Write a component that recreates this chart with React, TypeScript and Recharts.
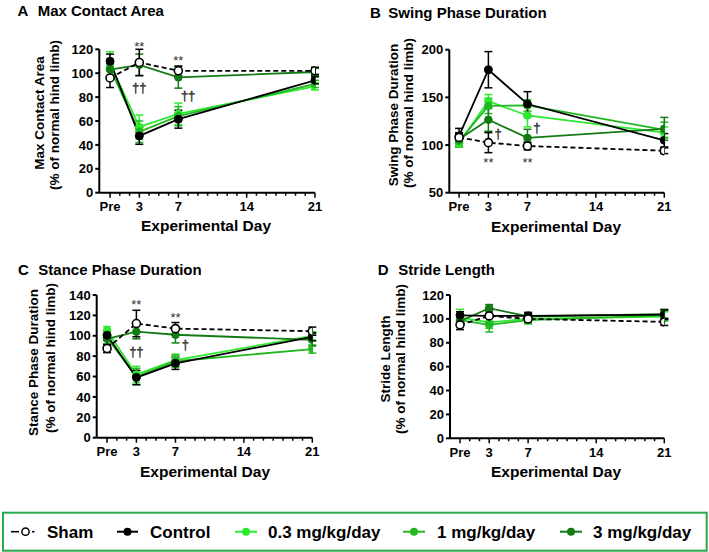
import React from 'react';
import { LineChart, Line, XAxis, YAxis, ErrorBar, ReferenceDot } from 'recharts';

// ---------- shared ----------
const days = [0, 3, 7, 21];
const dayTicks = [0, 1, 2, 3, 4, 5, 6, 7, 8, 9, 10, 11, 12, 13, 14, 15, 16, 17, 18, 19, 20, 21];
const majorTicks = [0, 3, 7, 14, 21];
const seriesNames = ['Sham', 'Control', '0.3 mg/kg/day', '1 mg/kg/day', '3 mg/kg/day'];

// ---------- A: Max Contact Area ----------
const areaSham = [96, 109, 102, 102];
const areaShamErr = [8, 11, 4, 3];
const areaControl = [110, 47.5, 61.5, 94];
const areaControlErr = [6, 7, 7.5, 3];
const area03 = [108, 55, 66, 89];
const area03Err = [10, 10, 9, 3];
const area1 = [104, 51, 64, 91];
const area1Err = [8, 9, 8, 3];
const area3 = [103, 107, 96.5, 101];
const area3Err = [8, 9, 9, 3];
const areaMarks = [
  { day: 3, value: 125, text: '**' },
  { day: 7, value: 113.5, text: '**' },
  { day: 3, value: 87.4, text: '††' },
  { day: 8, value: 81, text: '††' },
];

// ---------- B: Swing Phase Duration ----------
const swingSham = [108, 102.5, 99, 94];
const swingShamErr = [5, 10.5, 4, 3];
const swingControl = [109.5, 179, 143, 105];
const swingControlErr = [8, 19, 13, 7];
const swing03 = [102, 146, 131, 113];
const swing03Err = [4, 7, 12, 6];
const swing1 = [104, 141, 141.5, 116];
const swing1Err = [6, 8, 6, 8];
const swing3 = [106, 126.5, 107.5, 117];
const swing3Err = [6, 12, 9, 12];
const swingMarks = [
  { day: 3, value: 84.5, text: '**' },
  { day: 7, value: 84.5, text: '**' },
  { day: 4, value: 111.5, text: '†' },
  { day: 7.95, value: 117.5, text: '†' },
];

// ---------- C: Stance Phase Duration ----------
const stanceSham = [87.5, 112, 107, 104.5];
const stanceShamErr = [4, 13, 6, 4];
const stanceControl = [100.5, 59, 73, 99];
const stanceControlErr = [5, 7, 6, 4];
const stance03 = [105, 62, 76, 100];
const stance03Err = [4, 8, 6, 4];
const stance1 = [98, 60, 75, 87];
const stance1Err = [6, 8, 6, 4];
const stance3 = [97, 104, 101, 96];
const stance3Err = [6, 7, 8, 6];
const stanceMarks = [
  { day: 3, value: 134, text: '**' },
  { day: 7, value: 121, text: '**' },
  { day: 3, value: 84.4, text: '††' },
  { day: 8, value: 91, text: '†' },
];

// ---------- D: Stride Length ----------
const strideSham = [95, 102.5, 100, 97.5];
const strideShamErr = [4, 5, 3, 3];
const strideControl = [103, 102.5, 102.5, 103.5];
const strideControlErr = [3, 6, 3, 4];
const stride03 = [101, 97, 100, 102];
const stride03Err = [7, 5, 4, 4];
const stride1 = [99, 95, 99, 103];
const stride1Err = [5, 6, 3, 4];
const stride3 = [98, 109, 102, 104];
const stride3Err = [4, 3, 3, 4];
const strideMarks: { day: number; value: number; text: string }[] = [];

// ---------- styling ----------
const FONT = '"Liberation Sans", Arial, Helvetica, sans-serif';
const C_SHAM = '#000000';
const C_CONTROL = '#000000';
const C_03 = '#2eea2e';
const C_1 = '#22b822';
const C_3 = '#147a14';
const LEGEND_BORDER = '#2aa84a';

type Mark = { day: number; value: number; text: string };

function buildRows(
  sham: number[], shamErr: number[],
  control: number[], controlErr: number[],
  d03: number[], d03Err: number[],
  d1: number[], d1Err: number[],
  d3: number[], d3Err: number[],
) {
  return days.map((day, i) => ({
    day,
    sham: sham[i], shamErr: shamErr[i],
    control: control[i], controlErr: controlErr[i],
    d03: d03[i], d03Err: d03Err[i],
    d1: d1[i], d1Err: d1Err[i],
    d3: d3[i], d3Err: d3Err[i],
  }));
}

const XTick = (props: any) => {
  const { x, y, payload } = props;
  const v = payload.value;
  const major = majorTicks.includes(v);
  return (
    <g>
      <line x1={x} x2={x} y1={y} y2={y + (major ? 5 : 3)} stroke="#000" strokeWidth={1.5} />
      {major && (
        <text x={x} y={y + 18.5} textAnchor="middle" fontSize={13} fontWeight="bold" fill="#000" fontFamily={FONT}>
          {v === 0 ? 'Pre' : String(v)}
        </text>
      )}
    </g>
  );
};

const MarkShape = (text: string) => (props: any) => {
  const { cx, cy } = props;
  const star = text.startsWith('*');
  const off = star ? 7.5 : 4;
  return (
    <text
      x={cx}
      y={cy + off}
      textAnchor="middle"
      fontSize={13}
      fill="#333"
      stroke={star ? 'none' : '#333'}
      strokeWidth={star ? 0 : 0.4}
      fontFamily={FONT}
    >
      {text}
    </text>
  );
};

type PanelProps = {
  left: number; top: number; width: number; height: number;
  margin: { top: number; right: number; bottom: number; left: number };
  xStart: number;
  yDomain: [number, number];
  yTicks: number[];
  rows: any[];
  marks: Mark[];
};

function Panel(p: PanelProps) {
  const greenSeries = [
    { key: 'd03', color: C_03 },
    { key: 'd1', color: C_1 },
    { key: 'd3', color: C_3 },
  ];
  return (
    <div style={{ position: 'absolute', left: p.left, top: p.top, width: p.width, height: p.height }}>
      <LineChart width={p.width} height={p.height} data={p.rows} margin={p.margin}>
        <XAxis
          type="number"
          dataKey="day"
          domain={[p.xStart, 21]}
          ticks={dayTicks}
          interval={0}
          allowDataOverflow
          tick={<XTick />}
          tickLine={false}
          tickSize={0}
          tickMargin={0}
          axisLine={{ stroke: '#000', strokeWidth: 2 }}
          height={30}
        />
        <YAxis
          type="number"
          domain={p.yDomain}
          ticks={p.yTicks}
          interval={0}
          allowDataOverflow
          tickSize={4}
          tickMargin={2}
          tick={{ fontSize: 13, fontWeight: 'bold', fill: '#000', fontFamily: FONT }}
          tickLine={{ stroke: '#000', strokeWidth: 2 }}
          axisLine={{ stroke: '#000', strokeWidth: 2 }}
          width={40}
        />
        {greenSeries.map((s) => (
          <Line
            key={s.key}
            type="linear"
            dataKey={s.key}
            stroke={s.color}
            strokeWidth={1.8}
            dot={{ r: 3.8, fill: s.color, stroke: s.color, strokeWidth: 1 }}
            activeDot={false}
            isAnimationActive={false}
          >
            <ErrorBar dataKey={s.key + 'Err'} width={4} strokeWidth={1.5} stroke={s.color} direction="y" isAnimationActive={false} />
          </Line>
        ))}
        <Line
          type="linear"
          dataKey="control"
          stroke={C_CONTROL}
          strokeWidth={1.8}
          dot={{ r: 4, fill: C_CONTROL, stroke: C_CONTROL, strokeWidth: 1 }}
          activeDot={false}
          isAnimationActive={false}
        >
          <ErrorBar dataKey="controlErr" width={4} strokeWidth={1.5} stroke={C_CONTROL} direction="y" isAnimationActive={false} />
        </Line>
        <Line
          type="linear"
          dataKey="sham"
          stroke={C_SHAM}
          strokeWidth={1.8}
          strokeDasharray="5 3"
          dot={{ r: 4, fill: '#fff', stroke: C_SHAM, strokeWidth: 1.6, strokeDasharray: '' }}
          activeDot={false}
          isAnimationActive={false}
        >
          <ErrorBar dataKey="shamErr" width={4} strokeWidth={1.5} stroke={C_SHAM} direction="y" isAnimationActive={false} />
        </Line>
        {p.marks.map((m, i) => (
          <ReferenceDot key={i} x={m.day} y={m.value} r={0} ifOverflow="visible" shape={MarkShape(m.text)} />
        ))}
      </LineChart>
    </div>
  );
}

const rowsA = buildRows(areaSham, areaShamErr, areaControl, areaControlErr, area03, area03Err, area1, area1Err, area3, area3Err);
const rowsB = buildRows(swingSham, swingShamErr, swingControl, swingControlErr, swing03, swing03Err, swing1, swing1Err, swing3, swing3Err);
const rowsC = buildRows(stanceSham, stanceShamErr, stanceControl, stanceControlErr, stance03, stance03Err, stance1, stance1Err, stance3, stance3Err);
const rowsD = buildRows(strideSham, strideShamErr, strideControl, strideControlErr, stride03, stride03Err, stride1, stride1Err, stride3, stride3Err);

function Texts() {
  const title = { fontSize: 15, fontWeight: 'bold' as const, fill: '#000', fontFamily: FONT };
  const xl = { fontSize: 15.5, fontWeight: 'bold' as const, fill: '#000', fontFamily: FONT, textAnchor: 'middle' as const };
  const yl = { fontSize: 13.5, fontWeight: 'bold' as const, fill: '#000', fontFamily: FONT, textAnchor: 'middle' as const };
  const lg = { fontSize: 17, fontWeight: 'bold' as const, fill: '#000', fontFamily: FONT };
  const legendY = 531.7;
  return (
    <svg width={709} height={552} style={{ position: 'absolute', left: 0, top: 0 }}>
      {/* titles */}
      <text x={17.5} y={15.5} {...title}>A</text>
      <text x={37.7} y={15.5} {...title}>Max Contact Area</text>
      <text x={370} y={18.3} {...title}>B</text>
      <text x={388.3} y={18.3} {...title}>Swing Phase Duration</text>
      <text x={18} y={275} {...title}>C</text>
      <text x={38.3} y={275} {...title}>Stance Phase Duration</text>
      <text x={377.7} y={275} {...title}>D</text>
      <text x={398.3} y={275} {...title}>Stride Length</text>

      {/* x labels */}
      <text x={206} y={230.5} {...xl}>Experimental Day</text>
      <text x={556} y={231.7} {...xl}>Experimental Day</text>
      <text x={205} y={476.5} {...xl}>Experimental Day</text>
      <text x={556} y={477} {...xl}>Experimental Day</text>

      {/* y labels */}
      <text transform="translate(43.5,113) rotate(-90)" {...yl}>Max Contact Area</text>
      <text transform="translate(58.5,115) rotate(-90)" {...yl}>(% of normal hind limb)</text>
      <text transform="translate(397.5,115) rotate(-90)" {...yl}>Swing Phase Duration</text>
      <text transform="translate(413,113) rotate(-90)" {...yl}>(% of normal hind limb)</text>
      <text transform="translate(38.3,362.5) rotate(-90)" {...yl}>Stance Phase Duration</text>
      <text transform="translate(54.5,358) rotate(-90)" {...yl}>(% of normal hind limb)</text>
      <text transform="translate(390,359) rotate(-90)" {...yl}>Stride Length</text>
      <text transform="translate(405,359) rotate(-90)" {...yl}>(% of normal hind limb)</text>

      {/* legend */}
      <rect x={3} y={512.7} width={703.7} height={38} fill="none" stroke={LEGEND_BORDER} strokeWidth={2} />
      <line x1={11} x2={19} y1={legendY} y2={legendY} stroke="#000" strokeWidth={1.6} />
      <circle cx={25.5} cy={legendY} r={3.6} fill="#fff" stroke="#000" strokeWidth={1.5} />
      <line x1={32} x2={34.5} y1={legendY} y2={legendY} stroke="#000" strokeWidth={1.6} />
      <text x={47} y={537.5} {...lg}>{seriesNames[0]}</text>

      <line x1={117} x2={138} y1={legendY} y2={legendY} stroke={C_CONTROL} strokeWidth={2} />
      <circle cx={127.5} cy={legendY} r={4} fill={C_CONTROL} />
      <text x={150} y={537.5} {...lg}>{seriesNames[1]}</text>

      <line x1={235} x2={257} y1={legendY} y2={legendY} stroke={C_03} strokeWidth={2} />
      <circle cx={246} cy={legendY} r={4} fill={C_03} />
      <text x={268} y={537.5} {...lg}>{seriesNames[2]}</text>

      <line x1={403} x2={425} y1={legendY} y2={legendY} stroke={C_1} strokeWidth={2} />
      <circle cx={414} cy={legendY} r={4} fill={C_1} />
      <text x={437} y={537.5} {...lg}>{seriesNames[3]}</text>

      <line x1={560} x2={582} y1={legendY} y2={legendY} stroke={C_3} strokeWidth={2} />
      <circle cx={571} cy={legendY} r={4} fill={C_3} />
      <text x={593} y={537.5} {...lg}>{seriesNames[4]}</text>
    </svg>
  );
}

export default function App() {
  return (
    <div style={{ position: 'absolute', left: 0, top: 0, width: 709, height: 552, background: '#fff', fontFamily: FONT, overflow: 'hidden' }}>
      <Texts />
      <Panel
        left={0} top={0} width={354} height={245}
        margin={{ top: 49.3, right: 39, bottom: 22.3, left: 59.3 }}
        xStart={-1.1}
        yDomain={[0, 120]}
        yTicks={[0, 20, 40, 60, 80, 100, 120]}
        rows={rowsA}
        marks={areaMarks}
      />
      <Panel
        left={354} top={0} width={355} height={245}
        margin={{ top: 49.7, right: 44.7, bottom: 22.3, left: 55.3 }}
        xStart={-1.0}
        yDomain={[50, 200]}
        yTicks={[50, 100, 150, 200]}
        rows={rowsB}
        marks={swingMarks}
      />
      <Panel
        left={0} top={245} width={354} height={245}
        margin={{ top: 50, right: 41.7, bottom: 22.3, left: 56.7 }}
        xStart={-1.06}
        yDomain={[0, 140]}
        yTicks={[0, 20, 40, 60, 80, 100, 120, 140]}
        rows={rowsC}
        marks={stanceMarks}
      />
      <Panel
        left={354} top={245} width={355} height={245}
        margin={{ top: 50, right: 44.7, bottom: 21.7, left: 56 }}
        xStart={-1.03}
        yDomain={[0, 120]}
        yTicks={[0, 20, 40, 60, 80, 100, 120]}
        rows={rowsD}
        marks={strideMarks}
      />
    </div>
  );
}
